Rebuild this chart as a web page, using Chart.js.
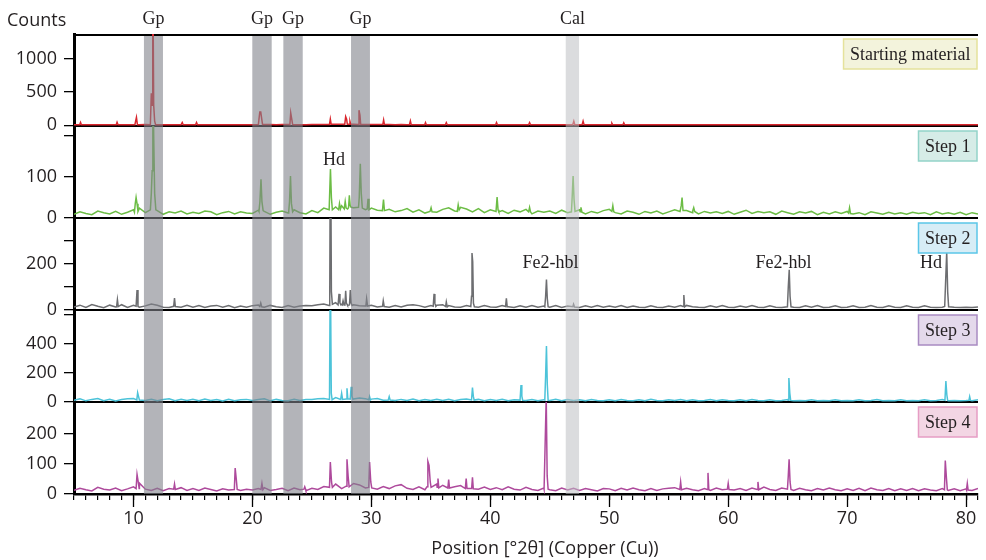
<!DOCTYPE html>
<html><head><meta charset="utf-8">
<script src="https://cdn.jsdelivr.net/npm/chart.js@4.4.0/dist/chart.umd.min.js"></script>
<style>html,body{margin:0;padding:0;background:#fff;}#wrap{width:986px;height:560px;}</style>
</head><body><div id="wrap"><canvas id="c" width="986" height="560"></canvas></div>
<script>
// ---- x grid (°2θ) ----
const twoTheta = [5,5.5,6,6.5,7,7.5,8,8.5,9,9.5,
10,10.5,11,11.5,12,12.5,13,13.5,14,14.5,
15,15.5,16,16.5,17,17.5,18,18.5,19,19.5,
20,20.5,21,21.5,22,22.5,23,23.5,24,24.5,
25,25.5,26,26.5,27,27.5,28,28.5,29,29.5,
30,30.5,31,31.5,32,32.5,33,33.5,34,34.5,
35,35.5,36,36.5,37,37.5,38,38.5,39,39.5,
40,40.5,41,41.5,42,42.5,43,43.5,44,44.5,
45,45.5,46,46.5,47,47.5,48,48.5,49,49.5,
50,50.5,51,51.5,52,52.5,53,53.5,54,54.5,
55,55.5,56,56.5,57,57.5,58,58.5,59,59.5,
60,60.5,61,61.5,62,62.5,63,63.5,64,64.5,
65,65.5,66,66.5,67,67.5,68,68.5,69,69.5,
70,70.5,71,71.5,72,72.5,73,73.5,74,74.5,
75,75.5,76,76.5,77,77.5,78,78.5,79,79.5,
80,80.5,81];

const panelNames = ['Starting material','Step 1','Step 2','Step 3','Step 4'];

// ---- Starting material (background counts on grid + peaks) ----
const startBase = [6,5,7,5,6,8,6,5,7,6, 8,7,9,8,7,6,8,7,6,7, 6,7,6,5,6,7,6,5,6,7, 8,9,10,9,8,9,10,8,7,8,
9,10,12,14,15,16,14,13,12,11, 10,9,10,9,8,9,8,7,8,7, 7,8,7,6,7,8,7,6,7,6, 7,6,7,6,7,6,7,6,5,6,
6,5,6,7,6,7,6,5,6,5, 6,5,6,5,6,5,5,6,5,6, 5,6,5,6,5,5,6,5,6,5, 5,6,5,5,6,5,6,5,5,6,
5,6,5,5,6,5,5,6,5,5, 6,5,5,6,5,5,6,5,5,6, 5,5,6,5,5,6,5,5,6,5, 5,6,5];
const startPeaks = [
[[5.48,6],[5.55,40],[5.62,6]],
[[8.55,6],[8.62,45],[8.7,6]],
[[10.12,7],[10.18,60],[10.25,118],[10.33,8]],
[[11.42,8],[11.5,480],[11.56,300],[11.62,2500],[11.7,300],[11.78,60],[11.86,8]],
[[14.02,6],[14.1,40],[14.18,6]],
[[15.22,6],[15.3,40],[15.38,6]],
[[20.55,9],[20.62,200],[20.7,200],[20.76,120],[20.85,10]],
[[23.15,9],[23.22,186],[23.3,100],[23.38,9]],
[[26.48,12],[26.55,93],[26.62,14]],
[[27.76,13],[27.84,128],[27.92,90],[27.98,14]],
[[28.14,13],[28.2,60],[28.27,13]],
[[28.9,12],[28.96,225],[29.04,150],[29.1,12]],
[[30.96,10],[31.03,78],[31.1,10]],
[[33.2,8],[33.28,63],[33.35,8]],
[[34.48,8],[34.55,40],[34.62,8]],
[[36.22,7],[36.3,40],[36.38,7]],
[[40.45,7],[40.52,40],[40.6,7]],
[[43.22,7],[43.3,40],[43.38,7]],
[[46.93,6],[47.02,60],[47.1,6]],
[[47.72,6],[47.8,60],[47.88,6]],
[[50.15,6],[50.22,30],[50.3,6]],
[[51.15,6],[51.22,35],[51.3,6]]];

// ---- Step 1 ----
const step1Base = [9,15,11,8,17,13,10,16,9,14, 20,24,13,11,18,9,15,12,17,10, 14,11,17,15,8,13,16,10,15,12, 11,19,16,9,14,17,12,20,13,10,
18,13,24,17,27,30,22,25,32,20, 24,19,13,21,15,18,23,14,20,12, 19,14,21,25,17,26,22,15,23,13, 20,14,18,11,19,15,21,10,17,14,
17,11,19,13,16,20,10,16,12,18, 21,13,10,17,14,9,16,12,17,10, 15,20,23,18,13,10,16,12,15,11, 16,9,14,19,11,16,13,15,9,17,
13,9,15,12,16,8,14,10,15,11, 16,10,13,8,15,12,9,14,10,13, 9,14,11,13,8,15,10,13,9,14, 8,13,10];
const step1Peaks = [
[[10.08,14],[10.15,35],[10.22,50],[10.3,35],[10.38,16]],
[[11.42,20],[11.5,60],[11.57,115],[11.63,400],[11.7,200],[11.78,60],[11.88,20]],
[[20.55,16],[20.63,40],[20.72,94],[20.8,40],[20.9,18]],
[[23.05,15],[23.12,40],[23.2,102],[23.28,35],[23.38,15]],
[[26.45,20],[26.56,119],[26.64,50],[26.72,20]],
[[27.25,20],[27.32,35],[27.4,22]],
[[27.72,22],[27.8,40],[27.88,24]],
[[28.08,25],[28.15,55],[28.22,30],[28.3,26]],
[[28.92,26],[28.98,50],[29.07,132],[29.15,60],[29.24,24]],
[[29.65,22],[29.72,47],[29.8,20]],
[[30.93,18],[31.02,45],[31.1,18]],
[[34.93,16],[35.02,25],[35.1,15]],
[[37.22,16],[37.3,32],[37.38,20]],
[[40.48,16],[40.57,51],[40.65,20],[40.72,15]],
[[43.22,15],[43.3,26],[43.38,15]],
[[46.82,15],[46.88,50],[46.96,102],[47.04,45],[47.12,16]],
[[47.55,15],[47.62,26],[47.7,14]],
[[50.22,16],[50.3,30],[50.38,15]],
[[55.95,16],[56.05,30],[56.12,50],[56.2,18]],
[[57.02,18],[57.1,25],[57.18,16]],
[[70.12,12],[70.2,25],[70.28,11]]];

// ---- Step 2 ----
const step2Base = [13,21,11,24,16,10,21,13,23,11, 20,12,18,26,21,12,11,19,12,20, 12,19,11,17,20,12,19,10,17,12, 19,22,12,20,14,11,19,12,17,20,
18,23,26,28,32,24,20,23,19,17, 21,13,20,12,19,13,21,23,19,12, 19,21,23,19,13,12,19,13,12,19, 13,12,19,14,11,18,12,19,12,17,
12,19,11,17,13,11,18,12,19,12, 17,12,19,11,17,12,11,18,12,11, 17,12,19,20,14,12,11,18,12,19, 12,11,17,12,19,12,11,18,12,11,
17,12,11,18,12,19,11,12,18,11, 12,18,11,12,19,12,11,18,12,11, 18,12,11,18,12,11,12,18,12,11, 12,11,13];
const step2Peaks = [
[[8.58,14],[8.65,45],[8.72,15]],
[[10.22,16],[10.3,87],[10.38,15]],
[[13.38,16],[13.45,52],[13.52,15]],
[[20.62,15],[20.7,30],[20.78,14]],
[[26.44,20],[26.5,40],[26.56,900],[26.64,80],[26.72,25]],
[[27.2,22],[27.28,70],[27.36,30],[27.44,22]],
[[27.55,22],[27.62,40],[27.7,22]],
[[27.78,24],[27.84,84],[27.9,30],[27.98,22]],
[[28.16,22],[28.23,87],[28.3,30],[28.38,20]],
[[29.54,18],[29.6,48],[29.68,17]],
[[30.94,16],[31.0,40],[31.08,15]],
[[35.2,16],[35.27,70],[35.34,30],[35.42,16]],
[[36.24,15],[36.3,35],[36.38,14]],
[[38.36,15],[38.42,60],[38.46,248],[38.52,210],[38.58,30],[38.66,14]],
[[41.28,15],[41.35,51],[41.42,14]],
[[44.58,14],[44.65,60],[44.72,132],[44.79,50],[44.86,14]],
[[46.94,14],[47.0,25],[47.08,13]],
[[56.2,15],[56.27,65],[56.34,14]],
[[64.98,14],[65.05,100],[65.13,175],[65.2,60],[65.28,14]],
[[78.2,15],[78.28,127],[78.37,252],[78.45,80],[78.53,14]]];

// ---- Step 3 ----
const step3Base = [12,22,8,18,24,9,19,7,17,22, 24,30,10,18,8,17,22,9,19,10, 18,8,21,10,17,7,19,9,16,18, 10,17,22,8,18,11,9,19,10,17,
18,22,24,26,30,32,26,21,28,23, 20,24,12,19,10,18,11,20,9,17, 11,19,10,18,9,17,20,10,18,9, 17,10,19,9,16,18,10,17,8,16,
10,18,9,17,10,16,8,17,10,9, 16,9,17,10,8,16,9,18,10,8, 16,10,17,9,16,8,10,17,9,16, 10,8,16,9,17,10,8,16,9,10,
17,9,10,8,16,9,10,8,16,9, 10,8,16,9,10,17,8,10,9,16, 9,10,8,16,9,10,17,9,10,8, 10,9,16];
const step3Peaks = [
[[10.28,15],[10.35,64],[10.42,40],[10.5,14]],
[[26.48,18],[26.55,1000],[26.63,60],[26.7,16]],
[[27.42,18],[27.5,60],[27.58,18]],
[[27.88,20],[27.95,94],[28.02,22]],
[[28.22,20],[28.3,105],[28.37,40],[28.45,18]],
[[29.78,15],[29.85,37],[29.92,14]],
[[31.42,14],[31.5,37],[31.58,13]],
[[38.42,14],[38.5,100],[38.57,40],[38.64,13]],
[[42.5,13],[42.58,117],[42.65,40],[42.72,12]],
[[44.58,13],[44.65,180],[44.72,386],[44.79,120],[44.86,12]],
[[65.03,12],[65.1,165],[65.18,60],[65.25,11]],
[[78.22,12],[78.3,145],[78.38,50],[78.45,11]],
[[80.24,12],[80.3,37],[80.37,11]]];

// ---- Step 4 ----
const step4Base = [12,19,14,10,22,16,13,20,11,17, 24,36,16,12,19,11,18,14,21,12, 18,12,20,15,10,17,13,19,12,16, 13,18,21,12,15,19,11,20,14,11,
19,15,25,28,33,18,27,35,30,20, 23,16,25,18,27,31,19,15,24,14, 27,33,29,18,24,28,31,20,16,23, 15,21,14,24,16,13,22,15,12,20,
14,11,20,13,19,12,18,14,10,18, 17,11,19,13,20,14,11,18,12,17, 19,21,12,19,14,11,18,12,20,14, 21,13,18,12,20,14,23,15,12,20,
18,12,19,14,11,18,13,20,14,11, 17,12,19,11,20,14,12,18,11,17, 12,18,11,17,13,11,18,12,17,11, 17,12,18];
const step4Peaks = [
[[10.22,18],[10.3,65],[10.4,40],[10.48,18]],
[[13.38,16],[13.45,33],[13.52,15]],
[[18.48,15],[18.55,86],[18.64,50],[18.72,15]],
[[20.72,15],[20.8,35],[20.88,14]],
[[24.33,16],[24.4,24],[24.47,16]],
[[26.48,22],[26.55,106],[26.65,40],[26.72,22]],
[[27.88,26],[27.95,115],[28.05,57],[28.13,24]],
[[29.78,22],[29.85,106],[29.95,40],[30.03,20]],
[[34.68,24],[34.75,108],[34.85,95],[34.95,40],[35.02,22]],
[[35.53,22],[35.6,51],[35.67,20]],
[[36.43,20],[36.5,48],[36.57,20]],
[[37.9,18],[37.97,51],[38.04,18]],
[[38.43,18],[38.5,55],[38.57,17]],
[[44.52,16],[44.6,150],[44.7,320],[44.78,60],[44.86,16]],
[[55.93,15],[56.0,40],[56.07,14]],
[[58.23,15],[58.3,70],[58.37,14]],
[[59.93,16],[60.0,35],[60.07,15]],
[[62.43,15],[62.5,40],[62.57,14]],
[[64.98,16],[65.05,60],[65.12,115],[65.2,40],[65.28,15]],
[[78.18,14],[78.25,111],[78.35,50],[78.42,14]],
[[80.03,14],[80.1,35],[80.17,13]]];

// ---- axes ----
const yMax = [1370, 224, 400, 634, 305];
const yMin = [-12, 0, 0, 0, 0];
const yTicks = [[0,500,1000],[0,100,200],[0,100,200,300],[0,200,400,600],[0,100,200]];
const yTickLabels = [[0,500,1000],[0,100],[0,200],[0,200,400],[0,100,200]];
const xTickLabels = [10,20,30,40,50,60,70,80];

// ---- phase bands and labels ----
const bandLabels = ['Gp','Gp','Gp','Gp','Cal'];
const bandFrom = [10.88, 19.99, 22.6, 28.29, 46.34];
const bandTo = [12.48, 21.62, 24.23, 29.88, 47.46];
const peakLabels = ['Hd','Fe2-hbl','Fe2-hbl','Hd'];
const peakLabelX = [26.86, 45.06, 64.65, 77.05];
const peakLabelY = [129, 183, 183, 183];
const peakLabelPanel = [1, 2, 2, 2];

const colors = ['#d9272e','#6cbd45','#6d6e71','#4cc3d9','#ae4a9c'];
const boxFill = ['#f3f3dc','#d6ece7','#d7edf6','#e4d9eb','#f3d6e4'];
const boxEdge = ['#e5e29c','#93d3c9','#5bc6e8','#a98bc2','#e69dc5'];

function buildSeries(base, clusters){
  const pts = [];
  twoTheta.forEach((x,i)=>{
    if (!clusters.some(c => x >= c[0][0] && x <= c[c.length-1][0])) pts.push({x:x, y:base[i]});
  });
  clusters.forEach(c => c.forEach(p => pts.push({x:p[0], y:p[1]})));
  pts.sort((a,b)=>a.x-b.x);
  return pts;
}
const bases = [startBase, step1Base, step2Base, step3Base, step4Base];
const peaks = [startPeaks, step1Peaks, step2Peaks, step3Peaks, step4Peaks];

const datasets = bases.map((b,i)=>({
  label: panelNames[i], data: buildSeries(b, peaks[i]), yAxisID: 'y'+i, xAxisID: 'x',
  borderColor: colors[i], backgroundColor: colors[i], borderWidth: 1.5,
  pointRadius: 0, tension: 0, fill: false, clip: false
}));

const SANS = '"Open Sans", sans-serif';
const SERIF = '"Liberation Serif", "Times New Roman", serif';

const scales = {
  x: {
    type:'linear', position:'bottom', min:5, max:81,
    ticks:{ stepSize:1, autoSkip:false, maxRotation:0, padding:8, color:'#231f20',
      font:{family:SANS, size:18},
      callback: v => xTickLabels.includes(v) ? String(v) : '' },
    grid:{ drawOnChartArea:false, tickLength:6, color:'#000', lineWidth:1.2 },
    border:{ color:'#000', width:2.5 },
    afterFit: s => { s.height = 66; }
  }
};
for (let i=4;i>=0;i--) {
  scales['y'+i] = {
    type:'linear', position:'left', stack:'xrd', stackWeight:1,
    min: yMin[i], max: yMax[i],
    afterBuildTicks: s => { s.ticks = yTicks[i].map(v => ({value:v})); },
    ticks:{ padding:7, autoSkip:false, color:'#231f20', font:{family:SANS, size:18},
      callback: v => yTickLabels[i].includes(v) ? String(v) : '' },
    grid:{ drawOnChartArea:false, tickLength:10, color:'#000', lineWidth:1.3 },
    border:{ color:'#000', width:3 },
    afterFit: s => { s.width = 74; }
  };
}

const decor = {
  id:'decor',
  beforeDatasetsDraw(chart){
    const {ctx, chartArea:a} = chart;
    ctx.save();
    ctx.strokeStyle = '#000'; ctx.lineWidth = 2;
    ctx.beginPath(); ctx.moveTo(a.left, a.top+1); ctx.lineTo(a.right, a.top+1); ctx.stroke();
    for (let i=0;i<4;i++){
      const s = chart.scales['y'+i];
      const y = s.bottom;
      ctx.beginPath(); ctx.moveTo(a.left, y); ctx.lineTo(a.right, y); ctx.stroke();
    }
    ctx.restore();
  },
  beforeDatasetDraw(chart, args){
    const {ctx, chartArea:a} = chart;
    const ys = args.meta.yScale;
    ctx.save();
    ctx.beginPath();
    ctx.rect(a.left, ys.top, a.right - a.left, ys.bottom - ys.top);
    ctx.clip();
  },
  afterDatasetDraw(chart){ chart.ctx.restore(); },
  afterDatasetsDraw(chart){
    const {ctx, chartArea:a, scales:{x}} = chart;
    ctx.save();
    bandFrom.forEach((f,i)=>{
      const x0 = x.getPixelForValue(f), x1 = x.getPixelForValue(bandTo[i]);
      ctx.fillStyle = bandLabels[i]==='Cal' ? 'rgba(190,192,195,0.55)' : 'rgba(128,130,138,0.6)';
      ctx.fillRect(x0, a.top+2, x1-x0, a.bottom-a.top-2);
    });
    ctx.restore();
  },
  afterDraw(chart){
    const {ctx, chartArea:a, scales:{x}} = chart;
    ctx.save();
    // major x ticks
    ctx.strokeStyle='#000'; ctx.lineWidth=1.3;
    xTickLabels.forEach(v=>{
      const px = Math.round(x.getPixelForValue(v))+0.5;
      ctx.beginPath(); ctx.moveTo(px, a.bottom); ctx.lineTo(px, a.bottom+13); ctx.stroke();
    });
    // axis titles
    ctx.fillStyle='#231f20';
    ctx.font = '18px '+SANS; ctx.textAlign='left'; ctx.textBaseline='alphabetic';
    ctx.fillText('Counts', 7, 26);
    ctx.textAlign='center';
    ctx.fillText('Position [°2θ] (Copper (Cu))', 545, 554);
    // band labels
    ctx.font = '18px '+SERIF;
    bandFrom.forEach((f,i)=>{
      const cx = (x.getPixelForValue(f)+x.getPixelForValue(bandTo[i]))/2;
      ctx.fillText(bandLabels[i], cx, 24);
    });
    // peak labels
    peakLabels.forEach((t,i)=>{
      const ys = chart.scales['y'+peakLabelPanel[i]];
      ctx.fillText(t, x.getPixelForValue(peakLabelX[i]), ys.getPixelForValue(peakLabelY[i]));
    });
    // panel name boxes
    ctx.font = '18px '+SERIF;
    panelNames.forEach((t,i)=>{
      const ys = chart.scales['y'+i];
      const w = ctx.measureText(t).width + 13, h = 30;
      const bx = a.right - w - 1, by = ys.top + 5;
      ctx.fillStyle = boxFill[i]; ctx.fillRect(bx, by, w, h);
      ctx.strokeStyle = boxEdge[i]; ctx.lineWidth = 1.5; ctx.strokeRect(bx, by, w, h);
      ctx.fillStyle = '#231f20'; ctx.textAlign='center'; ctx.textBaseline='middle';
      ctx.fillText(t, bx + w/2, by + h/2 + 1);
    });
    ctx.restore();
  }
};

new Chart(document.getElementById('c'), {
  type:'line',
  data:{ datasets },
  options:{
    responsive:false, animation:false, maintainAspectRatio:false,
    parsing:true,
    layout:{ padding:{ top:34, right:8, left:0, bottom:0 } },
    plugins:{ legend:{display:false}, tooltip:{enabled:false}, title:{display:false} },
    scales
  },
  plugins:[decor]
});
</script>
</body></html>
